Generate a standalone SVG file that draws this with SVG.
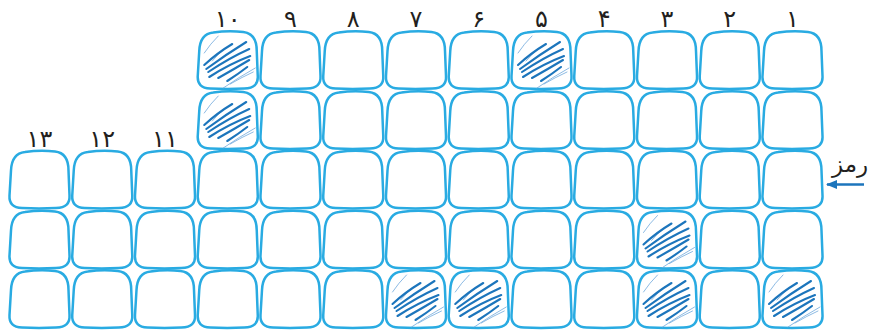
<svg xmlns="http://www.w3.org/2000/svg" xmlns:xlink="http://www.w3.org/1999/xlink" width="869" height="331" viewBox="0 0 869 331">
<style>
.cell{fill:none;stroke:#29abe2;stroke-width:2.5;stroke-linejoin:round}
.dk{fill:none;stroke:#1c75bc;stroke-width:2.1;stroke-linecap:round}
.lt{fill:none;stroke:#6fa8dc;stroke-width:0.8;stroke-linecap:round}
.lbl{font-family:"DejaVu Sans",sans-serif;font-size:24px;fill:#231f20;text-anchor:middle}
.arr{stroke:#1c75bc;stroke-width:2.5;fill:none}
</style>
<defs>
<path id="cell" class="cell" d="M16 1.5 C26 0 38 0 46 1 C55 2 59.5 8 59.5 20 L60.5 45 C61 53 57 57 47 57.5 C36 58 24 58 13 57.5 C4 57 0 53 0.5 45 L2 20 C2.5 8 7 2.5 16 1.5 Z"/>
<g id="hatch">
<path class="lt" d="M7 22 Q13 13 21 5"/>
<path class="lt" d="M15 30 Q22 22 28 17"/>
<path class="dk" d="M7 34 Q20 22 35 13"/>
<path class="dk" d="M9 38 Q28 24 49 11"/>
<path class="dk" d="M11 41 Q32 27 52 18"/>
<path class="dk" d="M12 46 Q32 33 53 25"/>
<path class="dk" d="M21 47 Q37 38 52 29"/>
<path class="dk" d="M30 50 Q41 43 50 36"/>
<path class="lt" d="M26 57 Q42 46 58 37"/>
<path class="lt" d="M33 53 Q45 46 56 41"/>
</g>
<marker id="ah" markerWidth="11" markerHeight="9" refX="10" refY="4.5" orient="auto" markerUnits="userSpaceOnUse">
<path d="M0 0 L11 4.5 L0 9 Z" fill="#1c75bc"/>
</marker>
</defs>
<g id="labels">
<text class="lbl" x="792.5" y="27">۱</text>
<text class="lbl" x="729.75" y="27">۲</text>
<text class="lbl" x="667" y="27">۳</text>
<text class="lbl" x="604.25" y="27">۴</text>
<text class="lbl" x="541.5" y="27">۵</text>
<text class="lbl" x="478.75" y="27">۶</text>
<text class="lbl" x="416" y="27">۷</text>
<text class="lbl" x="353.25" y="27">۸</text>
<text class="lbl" x="290.5" y="27">۹</text>
<text class="lbl" x="227.75" y="27">۱۰</text>
<text class="lbl" x="165" y="147">۱۱</text>
<text class="lbl" x="102.25" y="147">۱۲</text>
<text class="lbl" x="39.5" y="147">۱۳</text>
</g>
<g id="row1">
<g id="r1c1"><use href="#cell" x="762" y="31"/></g>
<g id="r1c2"><use href="#cell" x="699.25" y="31"/></g>
<g id="r1c3"><use href="#cell" x="636.5" y="31"/></g>
<g id="r1c4"><use href="#cell" x="573.75" y="31"/></g>
<g id="r1c5"><use href="#cell" x="511" y="31"/><use href="#hatch" x="511" y="31"/></g>
<g id="r1c6"><use href="#cell" x="448.25" y="31"/></g>
<g id="r1c7"><use href="#cell" x="385.5" y="31"/></g>
<g id="r1c8"><use href="#cell" x="322.75" y="31"/></g>
<g id="r1c9"><use href="#cell" x="260" y="31"/></g>
<g id="r1c10"><use href="#cell" x="197.25" y="31"/><use href="#hatch" x="197.25" y="31"/></g>
</g>
<g id="row2">
<g id="r2c1"><use href="#cell" x="762" y="91"/></g>
<g id="r2c2"><use href="#cell" x="699.25" y="91"/></g>
<g id="r2c3"><use href="#cell" x="636.5" y="91"/></g>
<g id="r2c4"><use href="#cell" x="573.75" y="91"/></g>
<g id="r2c5"><use href="#cell" x="511" y="91"/></g>
<g id="r2c6"><use href="#cell" x="448.25" y="91"/></g>
<g id="r2c7"><use href="#cell" x="385.5" y="91"/></g>
<g id="r2c8"><use href="#cell" x="322.75" y="91"/></g>
<g id="r2c9"><use href="#cell" x="260" y="91"/></g>
<g id="r2c10"><use href="#cell" x="197.25" y="91"/><use href="#hatch" x="197.25" y="91"/></g>
</g>
<g id="row3">
<g id="r3c1"><use href="#cell" x="762" y="150.5"/></g>
<g id="r3c2"><use href="#cell" x="699.25" y="150.5"/></g>
<g id="r3c3"><use href="#cell" x="636.5" y="150.5"/></g>
<g id="r3c4"><use href="#cell" x="573.75" y="150.5"/></g>
<g id="r3c5"><use href="#cell" x="511" y="150.5"/></g>
<g id="r3c6"><use href="#cell" x="448.25" y="150.5"/></g>
<g id="r3c7"><use href="#cell" x="385.5" y="150.5"/></g>
<g id="r3c8"><use href="#cell" x="322.75" y="150.5"/></g>
<g id="r3c9"><use href="#cell" x="260" y="150.5"/></g>
<g id="r3c10"><use href="#cell" x="197.25" y="150.5"/></g>
<g id="r3c11"><use href="#cell" x="134.5" y="150.5"/></g>
<g id="r3c12"><use href="#cell" x="71.75" y="150.5"/></g>
<g id="r3c13"><use href="#cell" x="9" y="150.5"/></g>
</g>
<g id="row4">
<g id="r4c1"><use href="#cell" x="762" y="210.5"/></g>
<g id="r4c2"><use href="#cell" x="699.25" y="210.5"/></g>
<g id="r4c3"><use href="#cell" x="636.5" y="210.5"/><use href="#hatch" x="636.5" y="210.5"/></g>
<g id="r4c4"><use href="#cell" x="573.75" y="210.5"/></g>
<g id="r4c5"><use href="#cell" x="511" y="210.5"/></g>
<g id="r4c6"><use href="#cell" x="448.25" y="210.5"/></g>
<g id="r4c7"><use href="#cell" x="385.5" y="210.5"/></g>
<g id="r4c8"><use href="#cell" x="322.75" y="210.5"/></g>
<g id="r4c9"><use href="#cell" x="260" y="210.5"/></g>
<g id="r4c10"><use href="#cell" x="197.25" y="210.5"/></g>
<g id="r4c11"><use href="#cell" x="134.5" y="210.5"/></g>
<g id="r4c12"><use href="#cell" x="71.75" y="210.5"/></g>
<g id="r4c13"><use href="#cell" x="9" y="210.5"/></g>
</g>
<g id="row5">
<g id="r5c1"><use href="#cell" x="762" y="270"/><use href="#hatch" x="762" y="270"/></g>
<g id="r5c2"><use href="#cell" x="699.25" y="270"/></g>
<g id="r5c3"><use href="#cell" x="636.5" y="270"/><use href="#hatch" x="636.5" y="270"/></g>
<g id="r5c4"><use href="#cell" x="573.75" y="270"/></g>
<g id="r5c5"><use href="#cell" x="511" y="270"/></g>
<g id="r5c6"><use href="#cell" x="448.25" y="270"/><use href="#hatch" x="448.25" y="270"/></g>
<g id="r5c7"><use href="#cell" x="385.5" y="270"/><use href="#hatch" x="385.5" y="270"/></g>
<g id="r5c8"><use href="#cell" x="322.75" y="270"/></g>
<g id="r5c9"><use href="#cell" x="260" y="270"/></g>
<g id="r5c10"><use href="#cell" x="197.25" y="270"/></g>
<g id="r5c11"><use href="#cell" x="134.5" y="270"/></g>
<g id="r5c12"><use href="#cell" x="71.75" y="270"/></g>
<g id="r5c13"><use href="#cell" x="9" y="270"/></g>
</g>
<g id="key">
<text class="lbl" x="850" y="172" direction="rtl" style="font-size:23px">رمز</text>
</g>
<g id="connectors">
<line class="arr" x1="864" y1="184.5" x2="827" y2="184.5" marker-end="url(#ah)"/>
</g>
</svg>
